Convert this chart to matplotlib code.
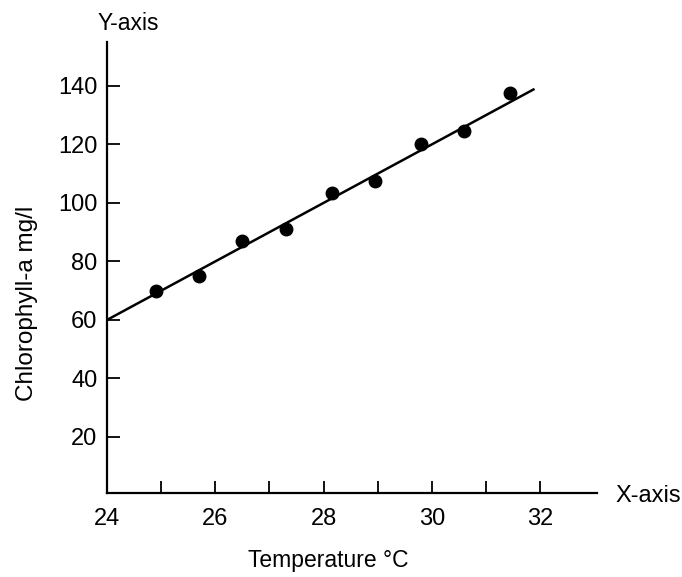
import matplotlib
matplotlib.use("Agg")
import matplotlib.pyplot as plt
import numpy as np

plt.rcParams['font.family'] = ['Liberation Sans', 'DejaVu Sans']

# Observed temperature (°C) and chlorophyll-a (mg/l)
temperature = [24.9, 25.7, 26.5, 27.3, 28.15, 28.95, 29.8, 30.6, 31.45]
chlorophyll = [70, 75, 87, 91, 103.5, 107.5, 120, 124.5, 137.5]

# Fitted trend line: chlorophyll = intercept + slope * temperature
slope = 10.0
intercept = -180.0
fit_range = [24.0, 31.9]

x_major = [24, 26, 28, 30, 32]
x_minor = [25, 27, 29, 31]
y_ticks = [20, 40, 60, 80, 100, 120, 140]

fig = plt.figure(figsize=(6.82, 5.77), dpi=100)
ax = fig.add_axes([0.157, 0.1456, 0.718, 0.7814])

fx = np.array(fit_range)
ax.plot(fx, intercept + slope * fx, color='black', lw=1.8, solid_capstyle='butt')
ax.plot(temperature, chlorophyll, 'o', color='black', ms=9)

ax.set_xlim(24, 33.05)
ax.set_ylim(0.8, 155)

ax.set_xticks(x_major)
ax.set_xticks(x_minor, minor=True)
ax.set_yticks(y_ticks)

for s in ('top', 'right'):
    ax.spines[s].set_visible(False)
for s in ('left', 'bottom'):
    ax.spines[s].set_linewidth(1.6)

ax.tick_params(axis='both', which='both', direction='in', width=1.3, labelsize=17)
ax.tick_params(axis='x', which='both', length=9, pad=11)
ax.tick_params(axis='y', length=9, pad=7)

fig.text(128 / 682, 1 - 24 / 577, 'Y-axis', fontsize=16.5, ha='center', va='center')
fig.text(615 / 682, 1 - 496 / 577, 'X-axis', fontsize=17, ha='left', va='center')
fig.text(27 / 682, 1 - 303 / 577, 'Chlorophyll-a mg/l', fontsize=17.5, ha='center',
         va='center', rotation=90)
fig.text(328 / 682, 1 - 561 / 577, 'Temperature °C', fontsize=16.5, ha='center', va='center')

fig.savefig('out.png', dpi=100)
